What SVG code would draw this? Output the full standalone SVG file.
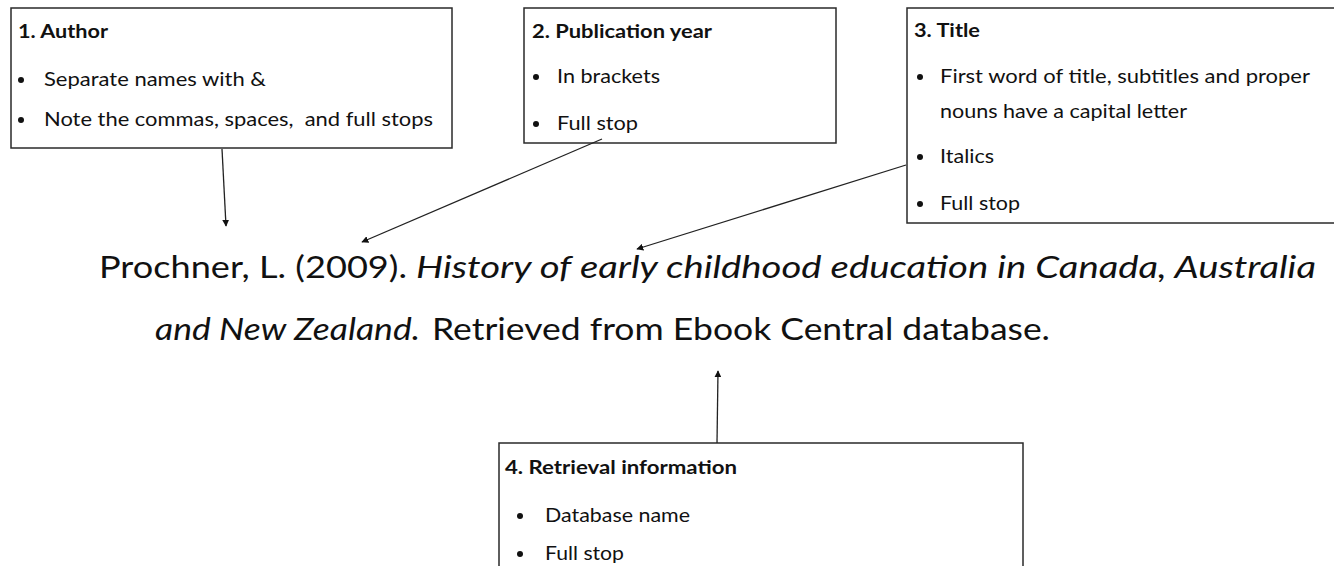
<svg xmlns="http://www.w3.org/2000/svg" width="1334" height="566" viewBox="0 0 1334 566">
<style>
text{font-family:Lato,"Liberation Sans",sans-serif;fill:#111}
.h{font-size:19px;font-weight:bold}
.b{font-size:20px}
.m{font-size:31px}
.i{font-style:italic}
.box{fill:#fff;stroke:#2a2a2a;stroke-width:1.5}
.dot{fill:#111}
.c{stroke:#222;stroke-width:1.3;fill:none;marker-end:url(#ah)}
</style>
<defs>
<marker id="ah" viewBox="0 0 10 10" refX="9" refY="5" markerWidth="7" markerHeight="7" markerUnits="userSpaceOnUse" orient="auto">
<path d="M0,0 L10,5 L0,10 z" fill="#111"/>
</marker>
</defs>
<rect width="1334" height="566" fill="#fff"/>

<g id="author">
<rect class="box" x="11" y="8" width="441" height="140"/>
<text class="h" x="18" y="38" textLength="90" lengthAdjust="spacingAndGlyphs">1. Author</text>
<circle class="dot" cx="21" cy="80" r="3"/>
<text class="b" x="44" y="86" textLength="222" lengthAdjust="spacingAndGlyphs">Separate names with &amp;</text>
<circle class="dot" cx="21" cy="120" r="3"/>
<text class="b" x="44" y="126" textLength="389" lengthAdjust="spacingAndGlyphs" xml:space="preserve">Note the commas, spaces,  and full stops</text>
</g>

<g id="year">
<rect class="box" x="524" y="8" width="312" height="135"/>
<text class="h" x="532" y="38" textLength="180" lengthAdjust="spacingAndGlyphs">2. Publication year</text>
<circle class="dot" cx="536" cy="77" r="3"/>
<text class="b" x="557" y="83" textLength="103" lengthAdjust="spacingAndGlyphs">In brackets</text>
<circle class="dot" cx="536" cy="124" r="3"/>
<text class="b" x="557" y="130" textLength="81" lengthAdjust="spacingAndGlyphs">Full stop</text>
</g>

<g id="title">
<rect class="box" x="907" y="8" width="440" height="215"/>
<text class="h" x="914" y="37" textLength="66" lengthAdjust="spacingAndGlyphs">3. Title</text>
<circle class="dot" cx="920" cy="77" r="3"/>
<text class="b" x="940" y="83" textLength="370" lengthAdjust="spacingAndGlyphs">First word of title, subtitles and proper</text>
<text class="b" x="940" y="118" textLength="247" lengthAdjust="spacingAndGlyphs">nouns have a capital letter</text>
<circle class="dot" cx="920" cy="157" r="3"/>
<text class="b" x="940" y="163" textLength="54" lengthAdjust="spacingAndGlyphs">Italics</text>
<circle class="dot" cx="920" cy="204" r="3"/>
<text class="b" x="940" y="210" textLength="80" lengthAdjust="spacingAndGlyphs">Full stop</text>
</g>

<g id="retrieval">
<rect class="box" x="499" y="443" width="524" height="140"/>
<text class="h" x="505" y="474" textLength="232" lengthAdjust="spacingAndGlyphs">4. Retrieval information</text>
<circle class="dot" cx="520" cy="516" r="3"/>
<text class="b" x="545" y="522" textLength="145" lengthAdjust="spacingAndGlyphs">Database name</text>
<circle class="dot" cx="520" cy="554" r="3"/>
<text class="b" x="545" y="560" textLength="79" lengthAdjust="spacingAndGlyphs">Full stop</text>
</g>

<g id="reference">
<text class="m" x="99" y="278" textLength="308" lengthAdjust="spacingAndGlyphs">Prochner, L. (2009).</text>
<text class="m i" x="416" y="278" textLength="900" lengthAdjust="spacingAndGlyphs">History of early childhood education in Canada, Australia</text>
<text class="m i" x="155" y="340" textLength="265" lengthAdjust="spacingAndGlyphs">and New Zealand.</text>
<text class="m" x="432" y="340" textLength="618" lengthAdjust="spacingAndGlyphs">Retrieved from Ebook Central database.</text>
</g>

<g id="connectors">
<line class="c" x1="222" y1="149" x2="226" y2="226"/>
<line class="c" x1="602" y1="139" x2="362" y2="242"/>
<line class="c" x1="906" y1="165" x2="637" y2="249"/>
<line class="c" x1="717" y1="443" x2="718" y2="371"/>
</g>
</svg>
